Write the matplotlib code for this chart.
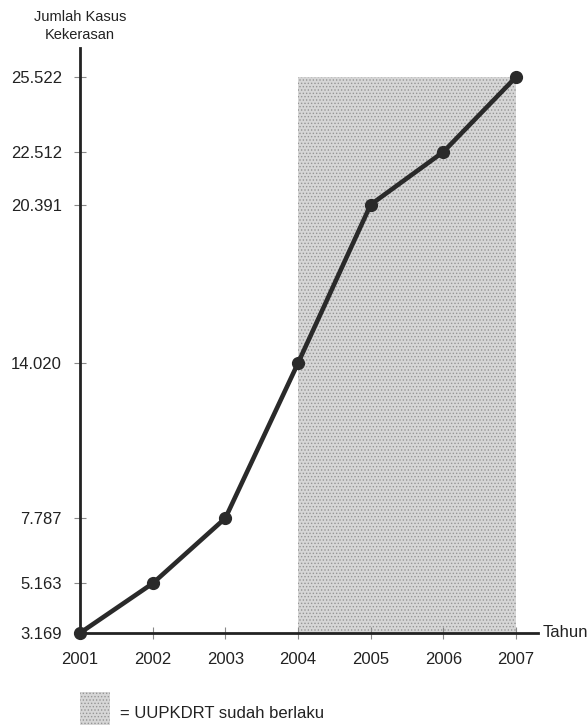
import matplotlib
matplotlib.use("Agg")
import matplotlib.pyplot as plt
from matplotlib.patches import Rectangle

plt.rcParams['font.family'] = ['Liberation Sans', 'DejaVu Sans']
plt.rcParams['hatch.linewidth'] = 0.6

# data
tahun = [2001, 2002, 2003, 2004, 2005, 2006, 2007]
kasus = [3169, 5163, 7787, 14020, 20391, 22512, 25522]
label_kasus = ['3.169', '5.163', '7.787', '14.020', '20.391', '22.512', '25.522']
uu_mulai = 2004
uu_akhir = 2007

fig = plt.figure(figsize=(5.87, 7.25), dpi=100)
ax = fig.add_axes([0.1363, 0.1269, 0.780, 0.807])

# shaded period (UU PKDRT in force)
ax.add_patch(Rectangle((uu_mulai, kasus[0]), uu_akhir - uu_mulai, kasus[-1] - kasus[0],
                       facecolor='#d6d6d6', edgecolor='#959595', hatch='.....',
                       linewidth=0, zorder=1))

ax.plot(tahun, kasus, color='#2a2a2a', lw=3.3, marker='o', ms=8.5, zorder=3, clip_on=False)

ax.set_xlim(2001, 2007.3)
ax.set_ylim(kasus[0], 26690)
ax.set_xticks(tahun)
ax.set_xticklabels([str(t) for t in tahun])
ax.set_yticks(kasus)
ax.set_yticklabels(label_kasus)

for s in ['top', 'right']:
    ax.spines[s].set_visible(False)
for s in ['left', 'bottom']:
    ax.spines[s].set_linewidth(2)
    ax.spines[s].set_color('#222222')
ax.tick_params(direction='inout', length=8, width=0.8, color='#888888',
               labelsize=12, labelcolor='#222222')
ax.tick_params(axis='y', pad=9)
ax.tick_params(axis='x', pad=10)

ax.text(0, 1.01, 'Jumlah Kasus\nKekerasan', transform=ax.transAxes, ha='center',
        va='bottom', fontsize=10.5, color='#222222', linespacing=1.35)
ax.text(1.01, 0, 'Tahun', transform=ax.transAxes, ha='left', va='center',
        fontsize=12, color='#222222')

# legend
fig.patches.append(Rectangle((80 / 587, 0.0), 30 / 587, 33 / 725, transform=fig.transFigure,
                             facecolor='#d6d6d6', edgecolor='#959595', hatch='.....',
                             linewidth=0))
fig.text(120 / 587, 12 / 725, '= UUPKDRT sudah berlaku', ha='left', va='center',
         fontsize=12, color='#222222')

fig.savefig('out.png', dpi=100, facecolor='white')
